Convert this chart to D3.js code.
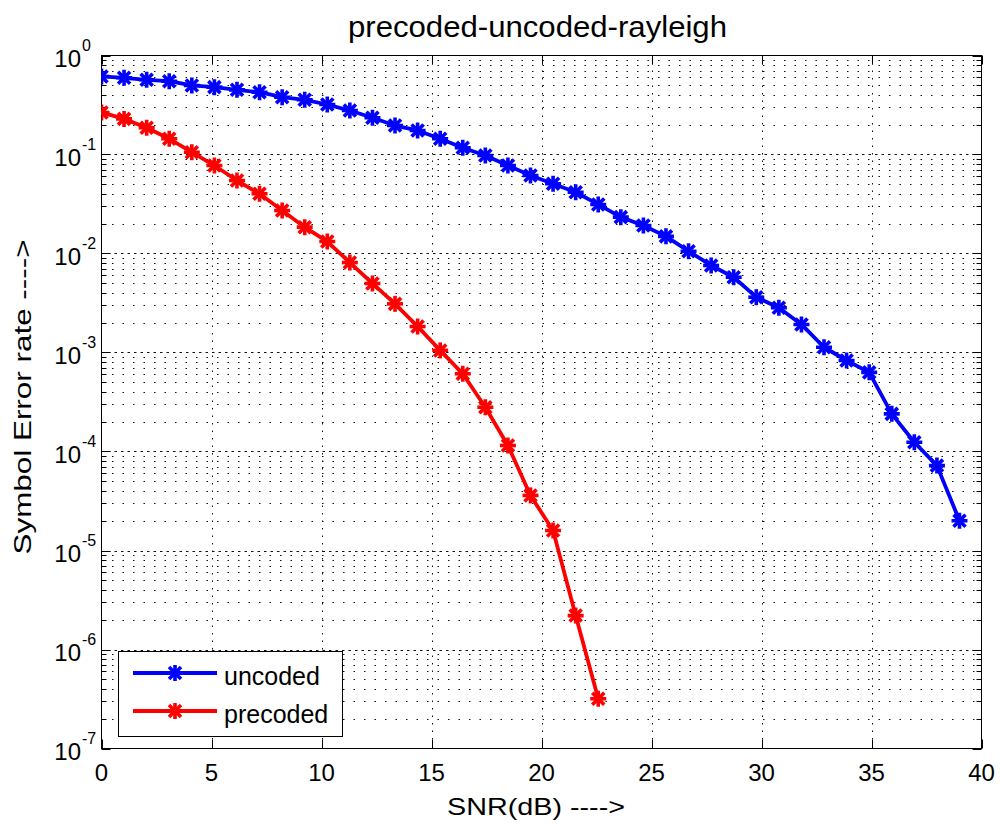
<!DOCTYPE html>
<html><head><meta charset="utf-8">
<script src="https://cdn.jsdelivr.net/npm/d3@7"></script>
<style>body{margin:0;background:#fff}svg{display:block}text{font-family:"Liberation Sans",Arial,sans-serif;fill:#000}</style>
</head><body><svg id="c" width="1000" height="826"></svg>
<script>
const title = "precoded-uncoded-rayleigh";
const xLabel = "SNR(dB) ---->";
const yLabel = "Symbol Error rate ---->";
const seriesNames = ["uncoded", "precoded"];
const xTicks = [0,5,10,15,20,25,30,35,40];
const yTickExps = [0,-1,-2,-3,-4,-5,-6,-7];
const snrUncoded = [0,1.026,2.053,3.079,4.105,5.132,6.158,7.184,8.211,9.237,10.263,11.289,12.316,13.342,14.368,15.395,16.421,17.447,18.474,19.5,20.526,21.553,22.579,23.605,24.632,25.658,26.684,27.711,28.737,29.763,30.789,31.816,32.842,33.868,34.895,35.921,36.947,37.974,39.0];
const serUncoded = [0.614,0.595,0.568,0.550,0.498,0.479,0.450,0.426,0.379,0.357,0.320,0.278,0.235,0.196,0.175,0.144,0.117,0.0977,0.0774,0.0614,0.0506,0.0416,0.0313,0.0233,0.0192,0.0149,0.01055,0.00757,0.00576,0.00362,0.00283,0.00192,0.00113,0.00083,0.00063,0.00024,0.000124,0.000072,0.00002];
const snrPrecoded = [0,1.026,2.053,3.079,4.105,5.132,6.158,7.184,8.211,9.237,10.263,11.289,12.316,13.342,14.368,15.395,16.421,17.447,18.474,19.5,20.526,21.553,22.579];
const serPrecoded = [0.266,0.229,0.186,0.144,0.1055,0.0774,0.0546,0.0401,0.0272,0.01845,0.0132,0.0081,0.00498,0.0031,0.00183,0.00105,0.00061,0.00028,0.000115,0.000036,0.0000159,0.0000022,0.000000318];

const L=101.5, R=981.5, T=55.5, B=748.5;
const svg = d3.select("#c");
const x = d3.scaleLinear().domain([0,40]).range([L,R]);
const y = d3.scaleLog().domain([1e-7,1]).range([B,T]);

svg.append("defs").append("clipPath").attr("id","clip").append("rect")
  .attr("x",L).attr("y",T).attr("width",R-L).attr("height",B-T);

// grid
const g = svg.append("g");
const minor = [];
for (let e=-7;e<0;e++) for (let m=2;m<=9;m++) minor.push(m*Math.pow(10,e));
g.selectAll("line.hm").data(minor).join("line")
  .attr("x1",L).attr("x2",R).attr("y1",d=>Math.round(y(d))+0.5).attr("y2",d=>Math.round(y(d))+0.5)
  .attr("stroke","#111").attr("stroke-width",1).attr("stroke-dasharray","1.5,9");
g.selectAll("line.hM").data(yTickExps.slice(1,-1)).join("line")
  .attr("x1",L).attr("x2",R).attr("y1",d=>Math.round(y(Math.pow(10,d)))+0.5).attr("y2",d=>Math.round(y(Math.pow(10,d)))+0.5)
  .attr("stroke","#111").attr("stroke-width",1).attr("stroke-dasharray","2.5,4");
g.selectAll("line.v").data(xTicks.slice(1,-1)).join("line")
  .attr("x1",d=>Math.round(x(d))+0.5).attr("x2",d=>Math.round(x(d))+0.5).attr("y1",T).attr("y2",B)
  .attr("stroke","#111").attr("stroke-width",1).attr("stroke-dasharray","1.5,6");

// ticks
const tk = svg.append("g").attr("stroke","#000").attr("stroke-width",1);
xTicks.forEach(v=>{const px=Math.round(x(v))+0.5;
  tk.append("line").attr("x1",px).attr("x2",px).attr("y1",B).attr("y2",B-9);
  tk.append("line").attr("x1",px).attr("x2",px).attr("y1",T).attr("y2",T+9);});
yTickExps.forEach(e=>{const py=Math.round(y(Math.pow(10,e)))+0.5;
  tk.append("line").attr("x1",L).attr("x2",L+9).attr("y1",py).attr("y2",py);
  tk.append("line").attr("x1",R).attr("x2",R-9).attr("y1",py).attr("y2",py);});
minor.forEach(v=>{const py=Math.round(y(v))+0.5;
  tk.append("line").attr("x1",L).attr("x2",L+5).attr("y1",py).attr("y2",py);
  tk.append("line").attr("x1",R).attr("x2",R-5).attr("y1",py).attr("y2",py);});

svg.append("rect").attr("x",L).attr("y",T).attr("width",R-L).attr("height",B-T)
  .attr("fill","none").attr("stroke","#000").attr("stroke-width",1);

// tick labels
svg.selectAll("text.xt").data(xTicks).join("text")
  .attr("x",d=>x(d)).attr("y",781).attr("text-anchor","middle").attr("font-size",24).text(d=>d);
yTickExps.forEach(e=>{const py=y(Math.pow(10,e));
  svg.append("text").attr("x",81).attr("y",py+11).attr("text-anchor","end").attr("font-size",24).text("10");
  svg.append("text").attr("x",82).attr("y",py-5).attr("text-anchor","start").attr("font-size",16).text(e);});

// labels
svg.append("text").attr("x",537.5).attr("y",37).attr("text-anchor","middle").attr("font-size",30)
  .attr("textLength",379).attr("lengthAdjust","spacingAndGlyphs").text(title);
svg.append("text").attr("x",536).attr("y",815).attr("text-anchor","middle").attr("font-size",24)
  .attr("textLength",178).attr("lengthAdjust","spacingAndGlyphs").text(xLabel);
svg.append("text").attr("transform","translate(31,397) rotate(-90)").attr("text-anchor","middle").attr("font-size",24)
  .attr("textLength",315).attr("lengthAdjust","spacingAndGlyphs").text(yLabel);

// series
function star(sel, cx, cy, color){
  const s=8, d=6;
  const gg = sel.append("g").attr("stroke",color).attr("stroke-width",3.6).attr("stroke-linecap","butt");
  gg.append("line").attr("x1",cx-s).attr("x2",cx+s).attr("y1",cy).attr("y2",cy);
  gg.append("line").attr("x1",cx).attr("x2",cx).attr("y1",cy-s).attr("y2",cy+s);
  gg.append("line").attr("x1",cx-d).attr("x2",cx+d).attr("y1",cy-d).attr("y2",cy+d);
  gg.append("line").attr("x1",cx-d).attr("x2",cx+d).attr("y1",cy+d).attr("y2",cy-d);
}
const series = [
  {name:seriesNames[0], xs:snrUncoded, ys:serUncoded, color:"#0000ff"},
  {name:seriesNames[1], xs:snrPrecoded, ys:serPrecoded, color:"#ff0000"}
];
const plot = svg.append("g").attr("clip-path","url(#clip)");
const line = d3.line().x(d=>x(d[0])).y(d=>y(d[1]));
series.forEach(s=>{
  const pts = s.xs.map((v,i)=>[v,s.ys[i]]);
  plot.append("path").attr("d",line(pts)).attr("fill","none").attr("stroke",s.color).attr("stroke-width",3.8).attr("stroke-linejoin","round");
  pts.forEach(p=>star(plot,x(p[0]),y(p[1]),s.color));
});

// legend
const lg = svg.append("g");
lg.append("rect").attr("x",118.5).attr("y",651.5).attr("width",224).attr("height",85).attr("fill","#fff").attr("stroke","#000").attr("stroke-width",1);
series.forEach((s,i)=>{
  const ly = 673 + i*38;
  lg.append("line").attr("x1",133).attr("x2",217).attr("y1",ly).attr("y2",ly).attr("stroke",s.color).attr("stroke-width",3.8);
  star(lg,175,ly,s.color);
  lg.append("text").attr("x",224).attr("y",ly+12).attr("font-size",25).text(s.name);
});
</script></body></html>
